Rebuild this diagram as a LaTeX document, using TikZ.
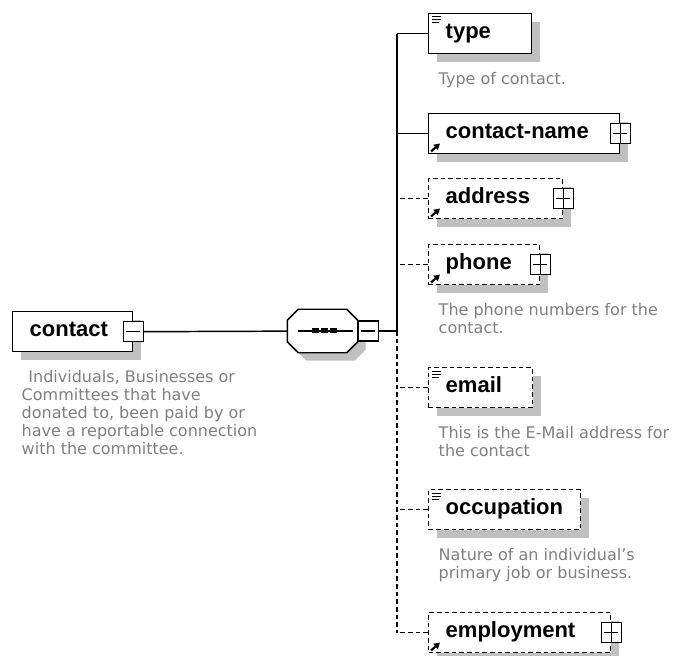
\documentclass[tikz,border=0pt]{standalone}
\usepackage{fontspec}
\usepackage{tikz}
\usetikzlibrary{positioning, shadows, arrows.meta}
\newfontfamily\elemfont{Liberation Sans}
\newfontfamily\notefont{DejaVu Sans}
\definecolor{notegray}{HTML}{808080}
\definecolor{shadegray}{HTML}{C0C0C0}

\begin{document}
\begin{tikzpicture}[x=0.75pt, y=-0.75pt, line width=1.1pt,
  shade/.style={general shadow={fill=shadegray, shadow xshift=6pt, shadow yshift=-6pt}},
  optline/.style={dash pattern=on 3.5pt off 2.25pt},
  elem/.style={draw, rectangle, fill=white, anchor=north west, shade,
    minimum height=30pt, inner xsep=12.75pt, inner ysep=0pt, align=left,
    text height=11.55pt, text depth=4.05pt,
    font=\elemfont\fontsize{16.5}{18}\selectfont\bfseries},
  optelem/.style={elem, optline},
  note/.style={font=\notefont\fontsize{12}{13.5}\selectfont, text=notegray,
    align=left, inner sep=0pt},
  pmbox/.style={draw, rectangle, fill=white, minimum size=15pt, inner sep=0pt},
  minusbox/.style={pmbox, path picture={
    \draw ([xshift=2.25pt]path picture bounding box.west) -- ([xshift=-2.25pt]path picture bounding box.east);}},
  plusbox/.style={pmbox, path picture={
    \draw ([xshift=2.25pt]path picture bounding box.west) -- ([xshift=-2.25pt]path picture bounding box.east);
    \draw (path picture bounding box.north) -- (path picture bounding box.south);}},
  seqbox/.style={rectangle, minimum width=51.75pt, minimum height=31.5pt, inner sep=0pt}]

  \useasboundingbox (0,0) rectangle (679,656);

  \node[elem, text width=64.5pt] (contact) at (12,311) {contact};
  \node[minusbox] (contactx) at (contact.east) {};
  \node[note, below right=12.75pt and 6.75pt of contact.south west]
    (contactnote) {\hspace*{5pt}Individuals, Businesses or\\Committees that have\\donated to, been paid by or\\have a reportable connection\\with the committee.};

  \node[seqbox] (seq) at (322.5,331) {};
  \draw[fill=white, shade] ([xshift=8.25pt]seq.north west) -- ([xshift=-8.25pt]seq.north east)
    -- ([yshift=-8.25pt]seq.north east) -- ([yshift=8.25pt]seq.south east)
    -- ([xshift=-8.25pt]seq.south east) -- ([xshift=8.25pt]seq.south west)
    -- ([yshift=8.25pt]seq.south west) -- ([yshift=-8.25pt]seq.north west) -- cycle;
  \node[minusbox, right=0pt of seq] (seqx) {};
  \coordinate (bus) at (397,331);

  \node[elem, text width=51.75pt] (type) at (428,13) {type};
  \node[note, below right=12.75pt and 7.5pt of type.south west] (typenote) {Type of contact.};

  \node[elem, text width=117.75pt] (cname) at (428,113) {contact-name};
  \node[plusbox] (cnamex) at (cname.east) {};

  \node[optelem, text width=75pt] (address) at (428,178) {address};
  \node[plusbox] (addressx) at (address.east) {};

  \node[optelem, text width=57.75pt] (phone) at (428,244) {phone};
  \node[plusbox] (phonex) at (phone.east) {};
  \node[note, below right=12.75pt and 7.5pt of phone.south west]
    (phonenote) {The phone numbers for the\\contact.};

  \node[optelem, text width=52.5pt] (email) at (428,367) {email};
  \node[note, below right=12.75pt and 7.5pt of email.south west]
    (emailnote) {This is the E-Mail address for\\the contact};

  \node[optelem, text width=88.5pt] (occupation) at (428,489) {occupation};
  \node[note, below right=12.75pt and 7.5pt of occupation.south west]
    (occupationnote) {Nature of an individual’s\\primary job or business.};

  \node[optelem, text width=111pt] (employment) at (428,612) {employment};
  \node[plusbox] (employmentx) at (employment.east) {};

  \draw (seq.west) ++(11,0) -- ([xshift=-3.75pt]seq.east);
  \foreach \dx in {-7,2,11}
    \fill ([xshift=\dx*0.75pt]seq.center) ++(-3.5,-2.5) rectangle ++(7,5);

  \draw (contactx) -- (seq);
  \draw (seqx) -- (bus);
  \draw (bus |- type.west) -- (bus);
  \draw[optline] (bus) -- (bus |- employment.west);
  \foreach \e in {type,cname}
    \draw (\e.west) -- (\e.west -| bus);
  \foreach \e in {address,phone,email,occupation,employment}
    \draw[optline] (\e.west) -- (\e.west -| bus);

  \foreach \e in {type,email,occupation}
    \foreach \k/\w in {0/9,1/9,2/7}
      \draw[line width=0.75pt] ([shift={(4,{4+3*\k})}]\e.north west) -- ++(\w,0);
  \foreach \e in {cname,address,phone,employment}
    \draw[line width=1.6pt, -{Triangle[length=4.5pt,width=5pt]}]
      ([shift={(3,-3)}]\e.south west) -- ++(9,-8);
\end{tikzpicture}
\end{document}
